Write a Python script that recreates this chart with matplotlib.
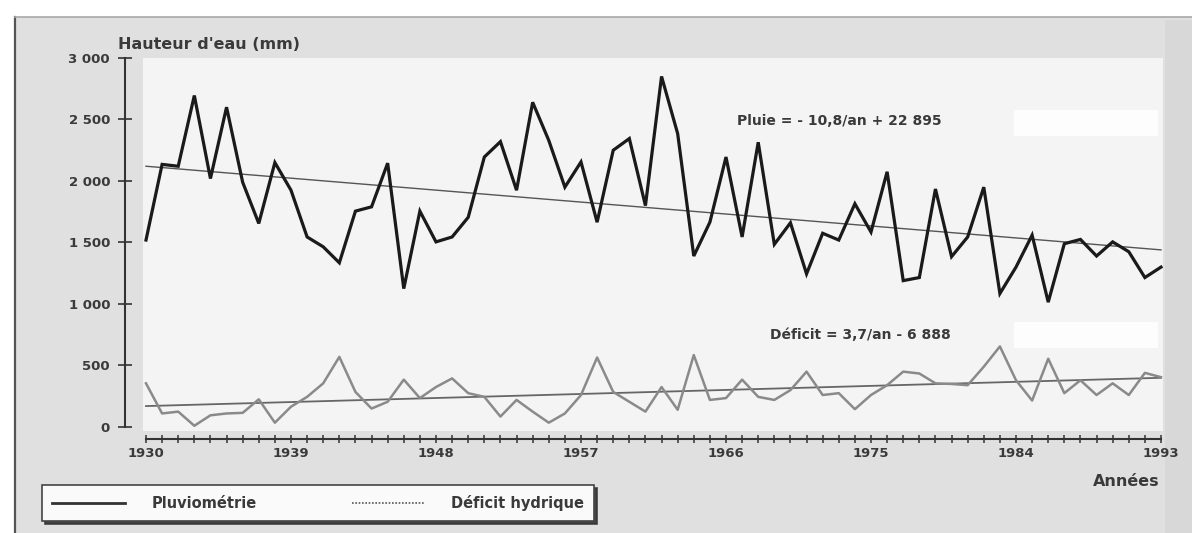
import matplotlib
matplotlib.use("Agg")
import matplotlib.pyplot as plt
from matplotlib.patches import Rectangle
from matplotlib.lines import Line2D
import numpy as np

# annual values (mm)
years = np.arange(1930, 1994)
pluvio = [1520, 2135, 2120, 2695, 2020, 2600, 1990, 1655, 2150, 1925,
          1545, 1465, 1335, 1755, 1790, 2145, 1125, 1755, 1505, 1545,
          1705, 2195, 2320, 1925, 2640, 2330, 1950, 2155, 1665, 2250,
          2345, 1800, 2850, 2385, 1390, 1665, 2195, 1545, 2315, 1485,
          1660, 1245, 1575, 1520, 1815, 1585, 2075, 1190, 1215, 1935,
          1385, 1545, 1950, 1085, 1300, 1560, 1015, 1490, 1525, 1390,
          1505, 1425, 1215, 1300]
deficit = [355, 110, 125, 10, 95, 110, 115, 225, 35, 165,
           245, 355, 570, 285, 150, 205, 385, 235, 325, 395,
           275, 245, 85, 220, 125, 35, 110, 260, 565, 285,
           205, 125, 325, 140, 585, 220, 235, 385, 245, 220,
           300, 450, 260, 275, 145, 260, 340, 450, 435, 355,
           350, 340, 490, 655, 380, 215, 555, 275, 380, 260,
           355, 260, 440, 405]

# trend lines, end points as drawn
trend_years = [1930, 1993]
pluvio_trend = [2120, 1440]
deficit_trend = [170, 400]

major_years = [1930, 1939, 1948, 1957, 1966, 1975, 1984, 1993]
y_ticks = [0, 500, 1000, 1500, 2000, 2500, 3000]
y_labels = ["0", "500", "1 000", "1 500", "2 000", "2 500", "3 000"]

plt.rcParams['font.family'] = ['DejaVu Sans']
txt_col = '#3a3a3a'

W, H = 1192, 533
fig = plt.figure(figsize=(W / 100, H / 100), dpi=100, facecolor='white')

def fx(px):
    return px / W

def fy(py):
    return 1 - py / H

# scanned page frame
fig.patches.append(Rectangle((fx(15), 0), 1 - fx(15), fy(17), transform=fig.transFigure,
                             facecolor='#e0e0e0', edgecolor='none', zorder=-3))
fig.patches.append(Rectangle((fx(1165), 0), 1 - fx(1165), fy(20), transform=fig.transFigure,
                             facecolor='#d8d8d8', edgecolor='none', zorder=-2))
fig.lines.append(Line2D([fx(15), fx(15)], [0, fy(17)], transform=fig.transFigure,
                        color='#555555', lw=1.6, zorder=-1))
fig.lines.append(Line2D([fx(15), 1], [fy(17), fy(17)], transform=fig.transFigure,
                        color='#a8a8a8', lw=1.2, zorder=-1))

ax = fig.add_axes([fx(125), fy(439), fx(1163) - fx(125), fy(58) - fy(439)])
ax.set_zorder(2)
ax.set_facecolor('none')
ax.set_xlim(1928.697, 1993.124)
ax.set_ylim(-97.6, 3000)

# light plotting panel
ax.add_patch(Rectangle((1929.81, -35), 1993.124 - 1929.81, 3035, facecolor='#f4f4f4',
                       edgecolor='none', zorder=0, clip_on=False))
# whiter scan patches to the right of the equations
ax.add_patch(Rectangle((1983.9, 2366), 1992.8 - 1983.9, 211, facecolor='#fdfdfd',
                       edgecolor='none', zorder=0.5))
ax.add_patch(Rectangle((1983.9, 642), 1992.8 - 1983.9, 212, facecolor='#fdfdfd',
                       edgecolor='none', zorder=0.5))

ax.plot(trend_years, pluvio_trend, color='#555555', lw=1.0, zorder=2)
ax.plot(trend_years, deficit_trend, color='#666666', lw=1.3, zorder=2)
ax.plot(years, deficit, color='#8a8a8a', lw=1.8, zorder=3)
ax.plot(years, pluvio, color='#1a1a1a', lw=2.3, zorder=4, solid_joinstyle='miter')

for s in ['top', 'right']:
    ax.spines[s].set_visible(False)
ax.spines['left'].set_bounds(0, 3000)
ax.spines['bottom'].set_bounds(1930, 1993)
for s in ['left', 'bottom']:
    ax.spines[s].set_color('#333333')
    ax.spines[s].set_linewidth(1.5)

ax.set_yticks(y_ticks)
ax.set_yticklabels(y_labels)
ax.set_xticks(major_years)
ax.set_xticks(years, minor=True)
ax.tick_params(axis='y', direction='inout', length=9.5, width=1.2, color='#333333',
               pad=6, labelsize=9.5, labelcolor=txt_col)
ax.tick_params(axis='x', which='both', direction='inout', length=6, width=1.1,
               color='#333333', pad=3, labelsize=9.5, labelcolor=txt_col)
for lab in ax.get_xticklabels() + ax.get_yticklabels():
    lab.set_fontweight('bold')

ax.text(1966.68, 2488, "Pluie = - 10,8/an + 22 895", fontsize=10, fontweight='bold',
        color=txt_col, va='center', ha='left', zorder=5)
ax.text(1968.73, 748, "Déficit = 3,7/an - 6 888", fontsize=10, fontweight='bold',
        color=txt_col, va='center', ha='left', zorder=5)

fig.text(fx(118), fy(45), "Hauteur d'eau (mm)", fontsize=11.5, fontweight='bold',
         color=txt_col, va='center', ha='left')
fig.text(fx(1160), fy(482), "Années", fontsize=11.5, fontweight='bold',
         color=txt_col, va='center', ha='right')

# legend box with drop shadow
handles = [Line2D([], [], color='#333333', lw=2.0),
           Line2D([], [], color='#555555', lw=1.2, linestyle=(0, (1, 1)))]
leg = fig.legend(handles, ["Pluviométrie", "Déficit hydrique"], ncol=2,
                 loc='center', bbox_to_anchor=(fx(318), fy(503)),
                 frameon=True, fancybox=False, shadow={'color': '#333333', 'alpha': 0.9},
                 handlelength=5.0, handletextpad=1.8, columnspacing=6.5,
                 borderpad=0.7, borderaxespad=0, prop={'size': 10.5, 'weight': 'bold'})
leg.get_frame().set_edgecolor('#444444')
leg.get_frame().set_linewidth(1.2)
leg.get_frame().set_facecolor('#fafafa')
for t in leg.get_texts():
    t.set_color(txt_col)

fig.savefig("out.png", dpi=100, facecolor=fig.get_facecolor())
